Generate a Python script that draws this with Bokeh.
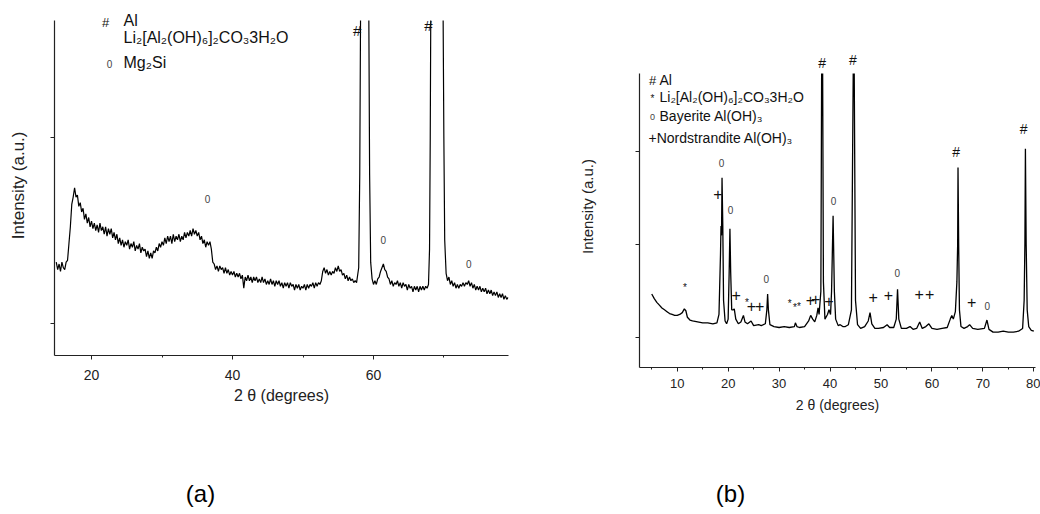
from bokeh.plotting import figure
from bokeh.models import Range1d, FixedTicker, Label
from bokeh.layouts import row, column
from bokeh.embed import file_html
from bokeh.resources import INLINE

FONT = "Liberation Sans"
NAN = float("nan")

# ---------------- panel (a) data: (2theta, intensity) ----------------
a_scan = [
    (15.0, 0.33), (15.2, 0.29), (15.4, 0.32), (15.6, 0.28), (15.8, 0.33), (16.0, 0.30), (16.2, 0.29),
    (16.4, 0.33), (16.6, 0.34), (16.8, 0.43), (17.0, 0.52), (17.2, 0.64), (17.4, 0.68), (17.6, 0.73),
    (17.8, 0.68), (18.0, 0.69), (18.2, 0.63), (18.4, 0.65), (18.6, 0.60), (18.8, 0.62), (19.0, 0.56),
    (19.2, 0.59), (19.4, 0.54), (19.6, 0.57), (19.8, 0.52), (20.0, 0.55), (20.2, 0.51), (20.4, 0.54),
    (20.6, 0.50), (20.8, 0.53), (21.0, 0.49), (21.2, 0.54), (21.4, 0.50), (21.6, 0.52), (21.8, 0.48),
    (22.0, 0.52), (22.2, 0.47), (22.4, 0.51), (22.6, 0.48), (22.8, 0.51), (23.0, 0.46), (23.2, 0.49),
    (23.4, 0.45), (23.6, 0.48), (23.8, 0.43), (24.0, 0.46), (24.2, 0.42), (24.4, 0.45), (24.6, 0.41),
    (24.8, 0.44), (25.0, 0.42), (25.2, 0.45), (25.4, 0.40), (25.6, 0.43), (25.8, 0.41), (26.0, 0.44),
    (26.2, 0.39), (26.4, 0.42), (26.6, 0.40), (26.8, 0.43), (27.0, 0.38), (27.2, 0.41), (27.4, 0.39),
    (27.6, 0.40), (27.8, 0.36), (28.0, 0.39), (28.2, 0.35), (28.4, 0.38), (28.6, 0.35), (28.8, 0.39),
    (29.0, 0.38), (29.2, 0.41), (29.4, 0.39), (29.6, 0.43), (29.8, 0.41), (30.0, 0.44), (30.2, 0.42),
    (30.4, 0.46), (30.6, 0.43), (30.8, 0.47), (31.0, 0.44), (31.2, 0.47), (31.4, 0.43), (31.6, 0.48),
    (31.8, 0.44), (32.0, 0.47), (32.2, 0.45), (32.4, 0.48), (32.6, 0.44), (32.8, 0.47), (33.0, 0.45),
    (33.2, 0.49), (33.4, 0.46), (33.6, 0.49), (33.8, 0.47), (34.0, 0.50), (34.2, 0.47), (34.4, 0.51),
    (34.6, 0.48), (34.8, 0.50), (35.0, 0.47), (35.2, 0.49), (35.4, 0.45), (35.6, 0.47), (35.8, 0.43),
    (36.0, 0.45), (36.2, 0.41), (36.4, 0.44), (36.6, 0.42), (36.8, 0.44), (37.0, 0.40), (37.2, 0.33),
    (37.4, 0.32), (37.6, 0.29), (37.8, 0.31), (38.0, 0.28), (38.2, 0.31), (38.4, 0.29), (38.6, 0.30),
    (38.8, 0.27), (39.0, 0.30), (39.2, 0.27), (39.4, 0.29), (39.6, 0.26), (39.8, 0.28), (40.0, 0.26),
    (40.2, 0.28), (40.4, 0.25), (40.6, 0.27), (40.8, 0.25), (41.0, 0.27), (41.2, 0.24), (41.4, 0.26),
    (41.6, 0.19), (41.8, 0.25), (42.0, 0.23), (42.2, 0.26), (42.4, 0.23), (42.6, 0.25), (42.8, 0.22),
    (43.0, 0.25), (43.2, 0.23), (43.4, 0.25), (43.6, 0.22), (43.8, 0.24), (44.0, 0.22), (44.2, 0.25),
    (44.4, 0.22), (44.6, 0.24), (44.8, 0.21), (45.0, 0.23), (45.2, 0.21), (45.4, 0.24), (45.6, 0.21),
    (45.8, 0.23), (46.0, 0.20), (46.2, 0.23), (46.4, 0.21), (46.6, 0.23), (46.8, 0.20), (47.0, 0.22),
    (47.2, 0.19), (47.4, 0.22), (47.6, 0.20), (47.8, 0.22), (48.0, 0.19), (48.2, 0.22), (48.4, 0.20),
    (48.6, 0.21), (48.8, 0.18), (49.0, 0.21), (49.2, 0.19), (49.4, 0.21), (49.6, 0.18), (49.8, 0.20),
    (50.0, 0.19), (50.2, 0.21), (50.4, 0.18), (50.6, 0.21), (50.8, 0.19), (51.0, 0.21), (51.2, 0.20),
    (51.4, 0.22), (51.6, 0.19), (51.8, 0.22), (52.0, 0.20), (52.2, 0.22), (52.4, 0.21), (52.6, 0.23),
    (52.8, 0.28), (53.0, 0.30), (53.2, 0.27), (53.4, 0.29), (53.6, 0.26), (53.8, 0.28), (54.0, 0.26),
    (54.2, 0.28), (54.4, 0.27), (54.6, 0.30), (54.8, 0.28), (55.0, 0.31), (55.2, 0.28), (55.4, 0.29),
    (55.6, 0.26), (55.8, 0.27), (56.0, 0.24), (56.2, 0.26), (56.4, 0.23), (56.6, 0.25), (56.8, 0.23),
    (57.0, 0.24), (57.2, 0.22), (57.4, 0.23), (57.6, 0.22), (57.9, 0.30), (58.05, 0.80), (58.16, 1.629),
    (58.75, NAN), (59.34, 1.629), (59.45, 0.80), (59.6, 0.33), (59.8, 0.24), (60.0, 0.21), (60.2, 0.23),
    (60.4, 0.21), (60.6, 0.24), (60.8, 0.25), (61.0, 0.28), (61.2, 0.30), (61.4, 0.32), (61.6, 0.29),
    (61.8, 0.28), (62.0, 0.25), (62.2, 0.24), (62.4, 0.21), (62.6, 0.23), (62.8, 0.20), (63.0, 0.22),
    (63.2, 0.21), (63.4, 0.23), (63.6, 0.20), (63.8, 0.22), (64.0, 0.19), (64.2, 0.22), (64.4, 0.20),
    (64.6, 0.21), (64.8, 0.18), (65.0, 0.21), (65.2, 0.19), (65.4, 0.20), (65.6, 0.17), (65.8, 0.20),
    (66.0, 0.18), (66.2, 0.20), (66.4, 0.17), (66.6, 0.20), (66.8, 0.18), (67.0, 0.20), (67.2, 0.18),
    (67.4, 0.20), (67.6, 0.19), (67.8, 0.21), (67.95, 0.40), (68.05, 1.00), (68.12, 1.629), (68.9, NAN),
    (69.88, 1.629), (69.98, 1.00), (70.1, 0.45), (70.3, 0.27), (70.5, 0.23), (70.7, 0.25), (70.9, 0.21),
    (71.1, 0.23), (71.3, 0.20), (71.5, 0.22), (71.7, 0.19), (71.9, 0.21), (72.1, 0.19), (72.3, 0.21),
    (72.5, 0.20), (72.7, 0.22), (72.9, 0.20), (73.1, 0.22), (73.3, 0.21), (73.5, 0.23), (73.7, 0.20),
    (73.9, 0.22), (74.1, 0.19), (74.3, 0.21), (74.5, 0.18), (74.7, 0.20), (74.9, 0.18), (75.1, 0.20),
    (75.3, 0.17), (75.5, 0.19), (75.7, 0.17), (75.9, 0.19), (76.1, 0.16), (76.3, 0.18), (76.5, 0.16),
    (76.7, 0.18), (76.9, 0.15), (77.1, 0.17), (77.3, 0.15), (77.5, 0.17), (77.7, 0.14), (77.9, 0.16),
    (78.1, 0.14), (78.3, 0.16), (78.5, 0.13), (78.7, 0.15), (78.9, 0.13), (79.1, 0.14),
]
a_theta = [t for t, _ in a_scan]
a_int = [v for _, v in a_scan]
a_hash_x = [57.7, 67.8]
a_hash_y = [1.575, 1.60]
a_zero_x = [36.45, 61.4, 73.5]
a_zero_y = [0.667, 0.45, 0.32]
a_yticks = [0, 1]
a_xticks = [20, 40, 60]
a_xminor = [30, 50, 70]

# ---------------- panel (b) data ----------------
b_theta = [5.0, 5.5, 6.0, 6.5, 7.0, 7.5, 8.0, 8.5, 9.0, 9.5, 10.0, 10.5, 11.0, 11.4, 11.7, 12.0,
           12.5, 13.0, 14.0, 15.0, 16.0, 17.0, 17.8, 18.2, 18.5, 18.6, 18.7, 18.8, 18.95, 19.1,
           19.4, 19.7, 20.0, 20.2, 20.35, 20.5, 20.7, 21.0, 21.2, 21.5, 22.0, 22.5, 23.0, 23.3,
           23.8, 24.5, 25.0, 26.0, 26.5, 27.3, 27.6, 27.75, 27.9, 28.2, 29.0, 30.0, 31.0, 32.0,
           33.0, 33.2, 33.5, 34.0, 35.0, 35.8, 36.2, 36.6, 37.0, 37.4, 37.65, 37.85, 38.2, 38.35,
           38.45, 38.55, 38.7, 39.0, 39.5, 39.8, 40.1, 40.3, 40.6, 40.85, 41.1, 41.6, 42.0, 42.5,
           43.0, 43.6, 44.2, 44.55, 44.65, 44.75, 45.0, 45.4, 46.0, 46.8, 47.5, 47.85, 48.2, 48.8,
           49.5, 50.5, 51.2, 51.7, 52.5, 53.0, 53.25, 53.5, 54.0, 55.0, 55.7, 56.3, 57.0, 57.6,
           58.1, 58.8, 59.4, 60.0, 61.0, 62.0, 63.0, 63.6, 63.9, 64.2, 64.6, 64.9, 65.05, 65.12,
           65.25, 65.4, 65.7, 66.3, 67.0, 67.4, 68.0, 69.0, 70.3, 70.8, 71.2, 72.0, 73.0, 74.0,
           75.0, 76.0, 77.0, 77.8, 78.1, 78.25, 78.35, 78.5, 78.7, 79.0, 79.5, 80.0]
b_int = [0.47, 0.42, 0.38, 0.35, 0.32, 0.30, 0.28, 0.26, 0.25, 0.24, 0.24, 0.25, 0.27, 0.31, 0.29, 0.22,
         0.19, 0.18, 0.17, 0.16, 0.16, 0.15, 0.16, 0.25, 0.90, 1.20, 1.10, 1.72, 1.20, 0.40,
         0.18, 0.15, 0.20, 0.70, 1.17, 0.70, 0.30, 0.30, 0.31, 0.20, 0.15, 0.17, 0.24, 0.17,
         0.15, 0.18, 0.13, 0.14, 0.13, 0.15, 0.30, 0.47, 0.30, 0.14, 0.12, 0.11, 0.12, 0.11,
         0.12, 0.16, 0.12, 0.11, 0.12, 0.18, 0.24, 0.20, 0.17, 0.24, 0.32, 0.25, 0.50, 2.84,
         NAN, 2.84, 0.60, 0.20, 0.25, 0.30, 0.25, 0.50, 1.31, 0.50, 0.20, 0.13, 0.14, 0.12,
         0.12, 0.14, 0.30, 2.84, NAN, 2.84, 0.40, 0.14, 0.10, 0.12, 0.18, 0.27, 0.15, 0.10,
         0.10, 0.11, 0.14, 0.11, 0.11, 0.20, 0.52, 0.20, 0.10, 0.10, 0.12, 0.09, 0.10, 0.17,
         0.10, 0.12, 0.15, 0.10, 0.09, 0.10, 0.11, 0.20, 0.24, 0.20, 0.28, 0.60, 1.00, 1.83,
         1.00, 0.30, 0.12, 0.10, 0.12, 0.14, 0.10, 0.09, 0.10, 0.19, 0.09, 0.06, 0.06, 0.07,
         0.06, 0.06, 0.07, 0.10, 0.40, 1.01, 2.03, 1.00, 0.30, 0.12, 0.08, 0.07]
b_hash_x = [38.46, 44.5, 64.76, 78.0]
b_hash_y = [2.95, 2.99, 2.0, 2.24]
b_zero_x = [18.7, 20.46, 27.5, 40.7, 53.2, 70.85]
b_zero_y = [1.88, 1.37, 0.63, 1.47, 0.70, 0.34]
b_plus_x = [17.97, 21.58, 24.58, 26.2, 36.16, 37.2, 39.76, 48.46, 51.47, 57.5, 59.58, 67.8]
b_plus_y = [1.55, 0.46, 0.34, 0.34, 0.41, 0.42, 0.40, 0.44, 0.46, 0.47, 0.47, 0.38]
b_star_x = [11.5, 23.7, 32.1, 33.1, 33.9]
b_star_y = [0.54, 0.38, 0.37, 0.32, 0.34]
b_yticks = [0, 1, 2]
b_xticks = [10, 20, 30, 40, 50, 60, 70, 80]
b_xminor = [5, 15, 25, 35, 45, 55, 65, 75]

LI_PHASE = "Li\u2082[Al\u2082(OH)\u2086]\u2082CO\u20833H\u2082O"


def base_fig(width, height, xr, yr, bl, br, bt, bb):
    p = figure(width=width, height=height, x_range=Range1d(*xr), y_range=Range1d(*yr),
               output_backend="svg", toolbar_location=None,
               min_border_left=bl, min_border_right=br, min_border_top=bt, min_border_bottom=bb)
    p.frame_align = False
    p.outline_line_color = None
    p.grid.visible = False
    p.background_fill_color = "white"
    p.border_fill_color = "white"
    for ax in (p.xaxis[0], p.yaxis[0]):
        ax.axis_line_color = "#222222"
        ax.axis_line_width = 1.2
        ax.major_tick_line_color = "#222222"
        ax.minor_tick_line_color = "#222222"
        ax.major_tick_in = 0
        ax.major_tick_out = 4
        ax.minor_tick_in = 0
        ax.minor_tick_out = 2
        ax.major_label_text_font = FONT
        ax.major_label_text_color = "#222222"
        ax.axis_label_text_font = FONT
        ax.axis_label_text_font_style = "normal"
        ax.axis_label_text_color = "#222222"
    return p


def add_label(p, x, y, text, size, color="#111111", align="center", baseline="middle"):
    p.add_layout(Label(x=x, y=y, text=text, text_font=FONT, text_font_size=size,
                       text_color=color, text_align=align, text_baseline=baseline))


# ---------------- figure (a) ----------------
pa = base_fig(520, 468, (14.75, 79.15), (-0.172, 1.683), 54, 12, 10, 113)
pa.line(a_theta, a_int, line_color="black", line_width=1.2)
pa.xaxis.ticker = FixedTicker(ticks=a_xticks, minor_ticks=a_xminor)
pa.yaxis.ticker = FixedTicker(ticks=a_yticks, minor_ticks=[])
pa.yaxis.bounds = (-0.172, 1.629)
pa.yaxis.major_label_overrides = {t: "" for t in a_yticks}
pa.yaxis.major_label_standoff = 0
pa.yaxis.axis_label = "Intensity  (a.u.)"
pa.yaxis.axis_label_text_font_size = "17px"
pa.yaxis.axis_label_standoff = 23
pa.xaxis.axis_label = "2 \u03b8 (degrees)"
pa.xaxis.axis_label_text_font_size = "16px"
pa.xaxis.major_label_text_font_size = "14px"
pa.xaxis.major_label_standoff = 10
pa.xaxis.axis_label_standoff = 4

for x, y in zip(a_hash_x, a_hash_y):
    add_label(pa, x, y, "#", "15px")
for x, y in zip(a_zero_x, a_zero_y):
    add_label(pa, x, y, "0", "10px", color="#444444")
add_label(pa, 21.99, 1.618, "#", "13px")
add_label(pa, 24.54, 1.629, "Al", "16px", align="left")
add_label(pa, 24.54, 1.538, LI_PHASE, "16px", align="left")
add_label(pa, 22.55, 1.398, "0", "10px", color="#444444")
add_label(pa, 24.54, 1.403, "Mg\u2082Si", "16px", align="left")

# ---------------- figure (b) ----------------
pb = base_fig(520, 468, (2.6, 80.33), (-0.32, 3.141), 119, 5, 45, 101)
pb.line(b_theta, b_int, line_color="black", line_width=1.3)
pb.xaxis.ticker = FixedTicker(ticks=b_xticks, minor_ticks=b_xminor)
pb.yaxis.ticker = FixedTicker(ticks=b_yticks, minor_ticks=[])
pb.yaxis.bounds = (-0.32, 2.84)
pb.yaxis.major_label_overrides = {t: "" for t in b_yticks}
pb.yaxis.major_label_standoff = 0
pb.yaxis.axis_label = "Intensity (a.u.)"
pb.yaxis.axis_label_text_font_size = "15px"
pb.yaxis.axis_label_standoff = 40
pb.xaxis.axis_label = "2 \u03b8 (degrees)"
pb.xaxis.axis_label_text_font_size = "14px"
pb.xaxis.major_label_text_font_size = "13px"
pb.xaxis.major_label_standoff = 7
pb.xaxis.axis_label_standoff = 6

for x, y in zip(b_hash_x, b_hash_y):
    add_label(pb, x, y, "#", "14px")
for x, y in zip(b_zero_x, b_zero_y):
    add_label(pb, x, y, "0", "10px", color="#444444")
for x, y in zip(b_plus_x, b_plus_y):
    add_label(pb, x, y, "+", "16px")
for x, y in zip(b_star_x, b_star_y):
    add_label(pb, x, y, "*", "10px")
add_label(pb, 5.15, 2.76, "#", "13px")
add_label(pb, 6.53, 2.77, "Al", "14px", align="left")
add_label(pb, 5.15, 2.57, "*", "10px")
add_label(pb, 6.53, 2.59, LI_PHASE, "14px", align="left")
add_label(pb, 5.15, 2.37, "0", "9px", color="#444444")
add_label(pb, 6.53, 2.38, "Bayerite Al(OH)\u2083", "14px", align="left")
add_label(pb, 4.37, 2.15, "+Nordstrandite Al(OH)\u2083", "14px", align="left")

# ---------------- captions row ----------------
pc = figure(width=1040, height=46, x_range=Range1d(0, 1040), y_range=Range1d(0, 46),
            output_backend="svg", toolbar_location=None, x_axis_type=None, y_axis_type=None,
            min_border=0)
pc.frame_align = False
pc.outline_line_color = None
pc.grid.visible = False
add_label(pc, 200, 21, "(a)", "24px", color="black")
add_label(pc, 730, 21, "(b)", "24px", color="black")

layout = column(row(pa, pb), pc)
open("out.html", "w").write(file_html(layout, INLINE))
